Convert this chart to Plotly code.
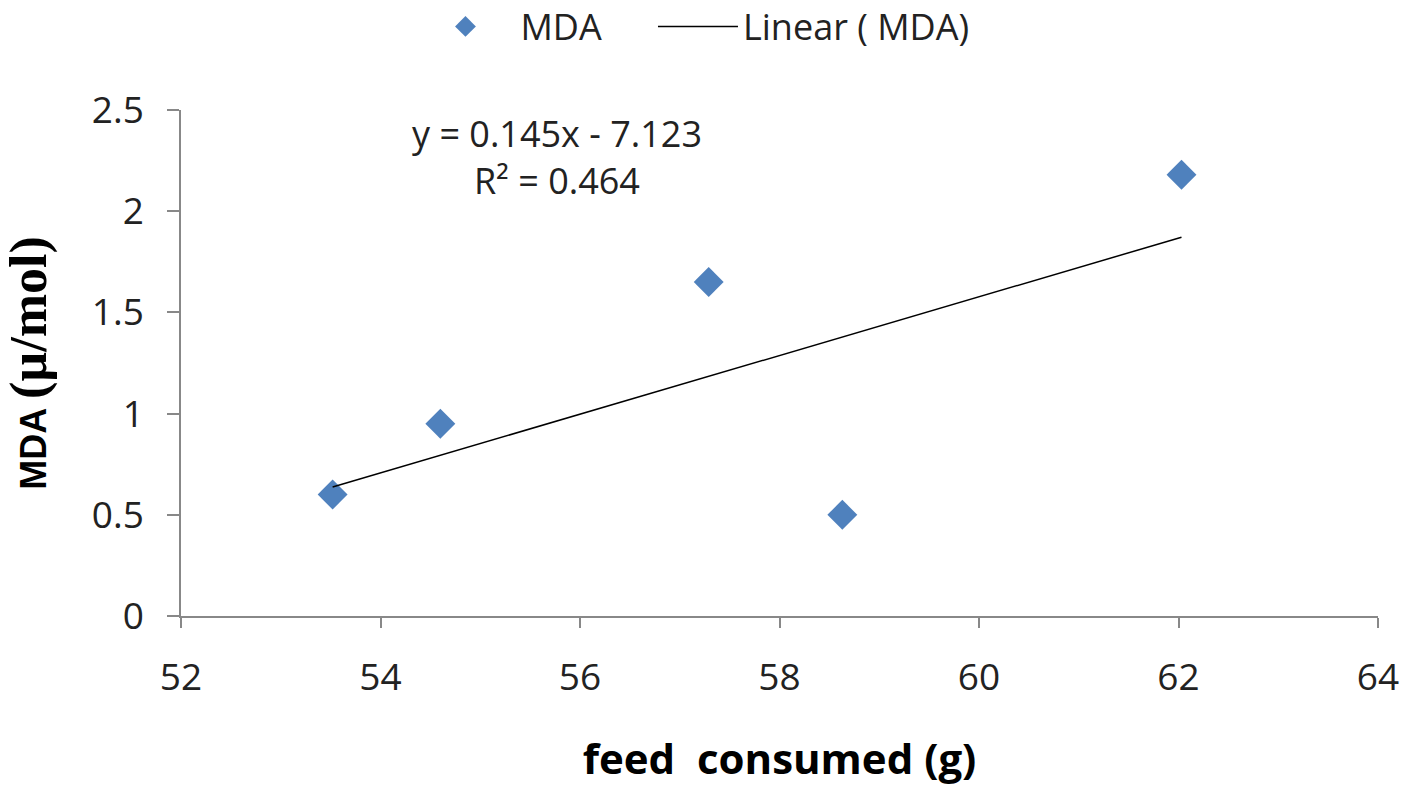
import plotly.graph_objects as go

feed_consumed = [53.52, 54.60, 57.29, 58.63, 62.03]
mda_values = [0.60, 0.95, 1.65, 0.50, 2.18]
slope = 0.145
intercept = -7.123
r_squared = 0.464
x_ticks = [52, 54, 56, 58, 60, 62, 64]
y_ticks = [0, 0.5, 1, 1.5, 2, 2.5]

trend_x = [min(feed_consumed), max(feed_consumed)]
trend_y = [slope * v + intercept for v in trend_x]

fig = go.Figure()
fig.add_trace(go.Scatter(
    x=feed_consumed, y=mda_values, mode="markers", name="MDA", legend="legend",
    marker=dict(symbol="diamond", size=23, color="#4F81BD", line=dict(width=0)),
))
fig.add_trace(go.Scatter(
    x=trend_x, y=trend_y, mode="lines", name="Linear ( MDA)", legend="legend2",
    line=dict(color="black", width=1.5),
))

fig.add_annotation(
    x=55.77, y=2.27, xref="x", yref="y",
    text=f"y = {slope}x - {abs(intercept)}<br>R² = {r_squared}",
    showarrow=False, align="center",
    font=dict(family="Open Sans", size=36, color="#222"),
)

axis_common = dict(
    showgrid=False, zeroline=False, showline=True, linecolor="#888888", linewidth=1.5,
    ticks="outside", tickcolor="#888888", tickwidth=1.5,
    tickfont=dict(family="Open Sans", size=37, color="#222"),
)

legend_font = dict(family="Open Sans", size=36, color="#222")

fig.update_layout(
    width=1418, height=792,
    margin=dict(l=181, r=40, t=110, b=176, autoexpand=False),
    paper_bgcolor="white", plot_bgcolor="white",
    showlegend=True,
    legend=dict(orientation="h", x=0.1917, xanchor="left", y=1.165, yanchor="middle",
                font=legend_font, itemwidth=100),
    legend2=dict(orientation="h", x=0.3943, xanchor="left", y=1.165, yanchor="middle",
                 font=legend_font, itemwidth=80),
    xaxis=dict(range=[52, 64], tickvals=x_ticks, ticklen=10, ticklabelstandoff=18,
               title=dict(text="<b>feed  consumed (g)</b>", standoff=44,
                          font=dict(family="Open Sans", size=42, color="black")),
               **axis_common),
    yaxis=dict(range=[0, 2.5], tickvals=y_ticks, ticklen=12, ticklabelstandoff=16,
               title=dict(text="<b>MDA <span style='font-family:Liberation Serif;font-size:52px'>(µ/mol)</span></b>",
                          standoff=34,
                          font=dict(family="Liberation Sans", size=36, color="black")),
               **axis_common),
)

fig.write_html("out.html")
